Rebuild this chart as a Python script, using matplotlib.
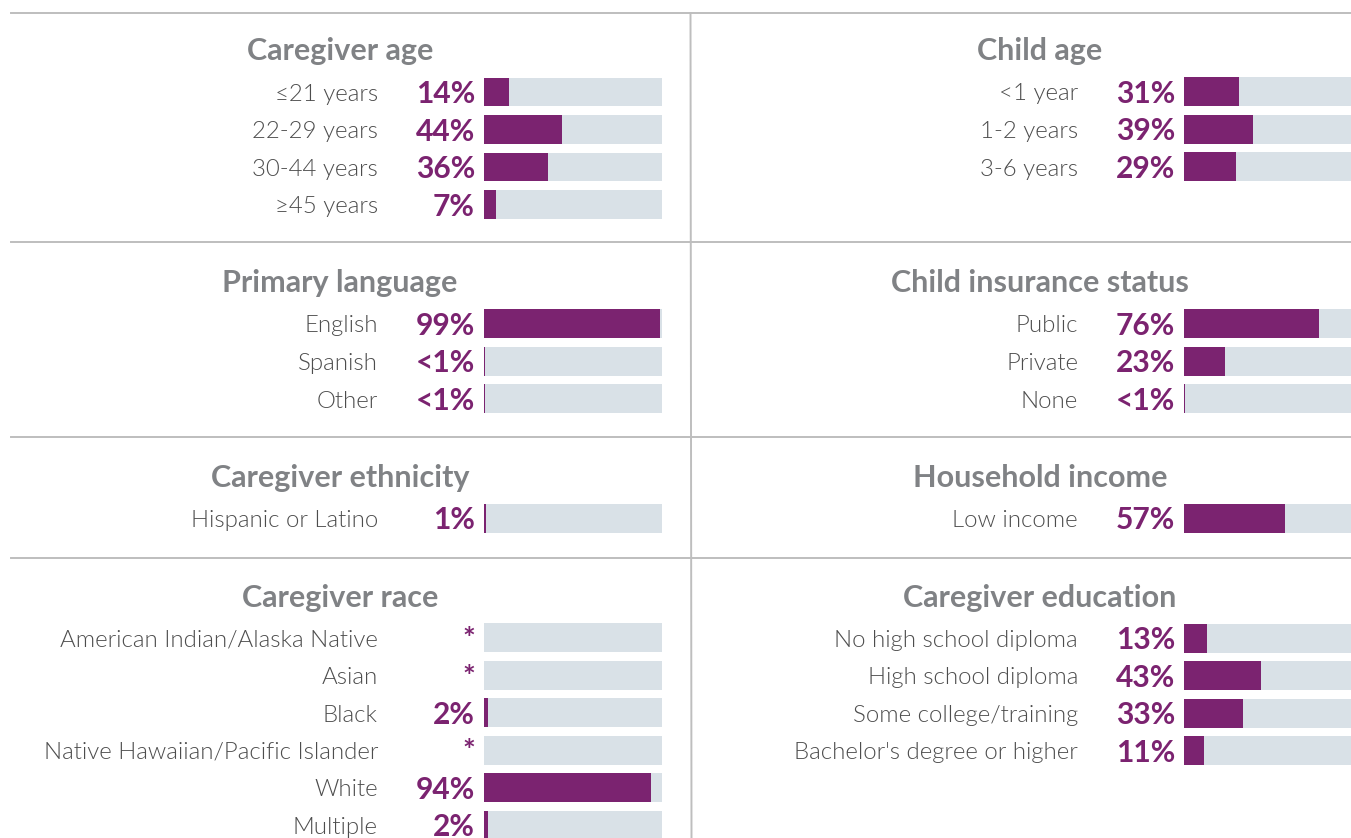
import matplotlib
matplotlib.use("Agg")
import matplotlib.pyplot as plt
from matplotlib.lines import Line2D
from matplotlib import font_manager
from matplotlib.font_manager import FontProperties

# ---------------- data ----------------
age_labels = ["≤21 years", "22-29 years", "30-44 years", "≥45 years"]
age_values = [14, 44, 36, 7]
age_text = ["14%", "44%", "36%", "7%"]

child_age_labels = ["<1 year", "1-2 years", "3-6 years"]
child_age_values = [31, 39, 29]
child_age_text = ["31%", "39%", "29%"]

lang_labels = ["English", "Spanish", "Other"]
lang_values = [99, 0.6, 0.6]
lang_text = ["99%", "<1%", "<1%"]

ins_labels = ["Public", "Private", "None"]
ins_values = [76, 23, 0.6]
ins_text = ["76%", "23%", "<1%"]

eth_labels = ["Hispanic or Latino"]
eth_values = [1]
eth_text = ["1%"]

inc_labels = ["Low income"]
inc_values = [57]
inc_text = ["57%"]

race_labels = ["American Indian/Alaska Native", "Asian", "Black",
               "Native Hawaiian/Pacific Islander", "White", "Multiple"]
race_values = [0, 0, 2, 0, 94, 2]
race_text = ["*", "*", "2%", "*", "94%", "2%"]

edu_labels = ["No high school diploma", "High school diploma",
              "Some college/training", "Bachelor's degree or higher"]
edu_values = [13, 43, 33, 11]
edu_text = ["13%", "43%", "33%", "11%"]

panels = [
    ("Caregiver age", age_labels, age_values, age_text, 0, 51, 92),
    ("Child age", child_age_labels, child_age_values, child_age_text, 1, 51, 92),
    ("Primary language", lang_labels, lang_values, lang_text, 0, 283, 324),
    ("Child insurance status", ins_labels, ins_values, ins_text, 1, 283, 324),
    ("Caregiver ethnicity", eth_labels, eth_values, eth_text, 0, 478, 518),
    ("Household income", inc_labels, inc_values, inc_text, 1, 478, 518),
    ("Caregiver race", race_labels, race_values, race_text, 0, 598, 638),
    ("Caregiver education", edu_labels, edu_values, edu_text, 1, 598, 638),
]

# ---------------- style ----------------
W, H = 1351, 838
PURPLE = "#7B2370"
BG = "#D9E1E7"
TITLE_C = "#808285"
LABEL_C = "#4D4D4D"
LINE_C = "#BEBEBE"

lato = [f for f in font_manager.fontManager.ttflist if f.name == "Lato"]
FAM = ["Lato", "DejaVu Sans"] if lato else ["DejaVu Sans"]
plt.rcParams["font.family"] = FAM

light = [f for f in lato if f.weight in (300, "light") and f.style == "normal"]
if light:
    label_fp = FontProperties(fname=light[0].fname, size=17.3)
else:
    label_fp = FontProperties(family=FAM, weight="normal", size=17.3)

fig = plt.figure(figsize=(W / 100, H / 100), dpi=100)
fig.patch.set_facecolor("white")

col_bar_x = [484, 1184]
col_title_x = [340, 1040]
BAR_W = 178
ROW = 37.5
BAR_H = 29 / ROW
SHIFT = 2 / ROW  # text baseline nudge (rows)

for title, labels, vals, texts, col, ty, first_row in panels:
    n = len(labels)
    top = first_row - ROW / 2
    ax = fig.add_axes([col_bar_x[col] / W, 1 - (top + n * ROW) / H,
                       BAR_W / W, n * ROW / H])
    y = list(range(n))
    ax.barh(y, [100] * n, height=BAR_H, color=BG, linewidth=0)
    ax.barh(y, vals, height=BAR_H, color=PURPLE, linewidth=0)
    ax.set_xlim(0, 100)
    ax.set_ylim(n - 0.5, -0.5)
    ax.axis("off")
    for i in range(n):
        ax.text(-9 / BAR_W, i + SHIFT, texts[i],
                transform=ax.get_yaxis_transform(),
                ha="right", va="center", fontsize=21.6, fontweight="bold",
                color=PURPLE)
        ax.text(-106 / BAR_W, i + SHIFT, labels[i],
                transform=ax.get_yaxis_transform(),
                ha="right", va="center", fontproperties=label_fp,
                color=LABEL_C)
    fig.text(col_title_x[col] / W, 1 - ty / H, title, ha="center", va="center",
             fontsize=22, fontweight="bold", color=TITLE_C)

# separator lines
for yy in [13, 242, 437, 558]:
    fig.add_artist(Line2D([11 / W, 1], [1 - yy / H, 1 - yy / H],
                          transform=fig.transFigure, color=LINE_C, lw=1.4))
fig.add_artist(Line2D([690.5 / W, 691.5 / W], [1 - 13 / H, 0],
                      transform=fig.transFigure, color=LINE_C, lw=1.4))

fig.savefig("out.png", dpi=100, facecolor="white")
